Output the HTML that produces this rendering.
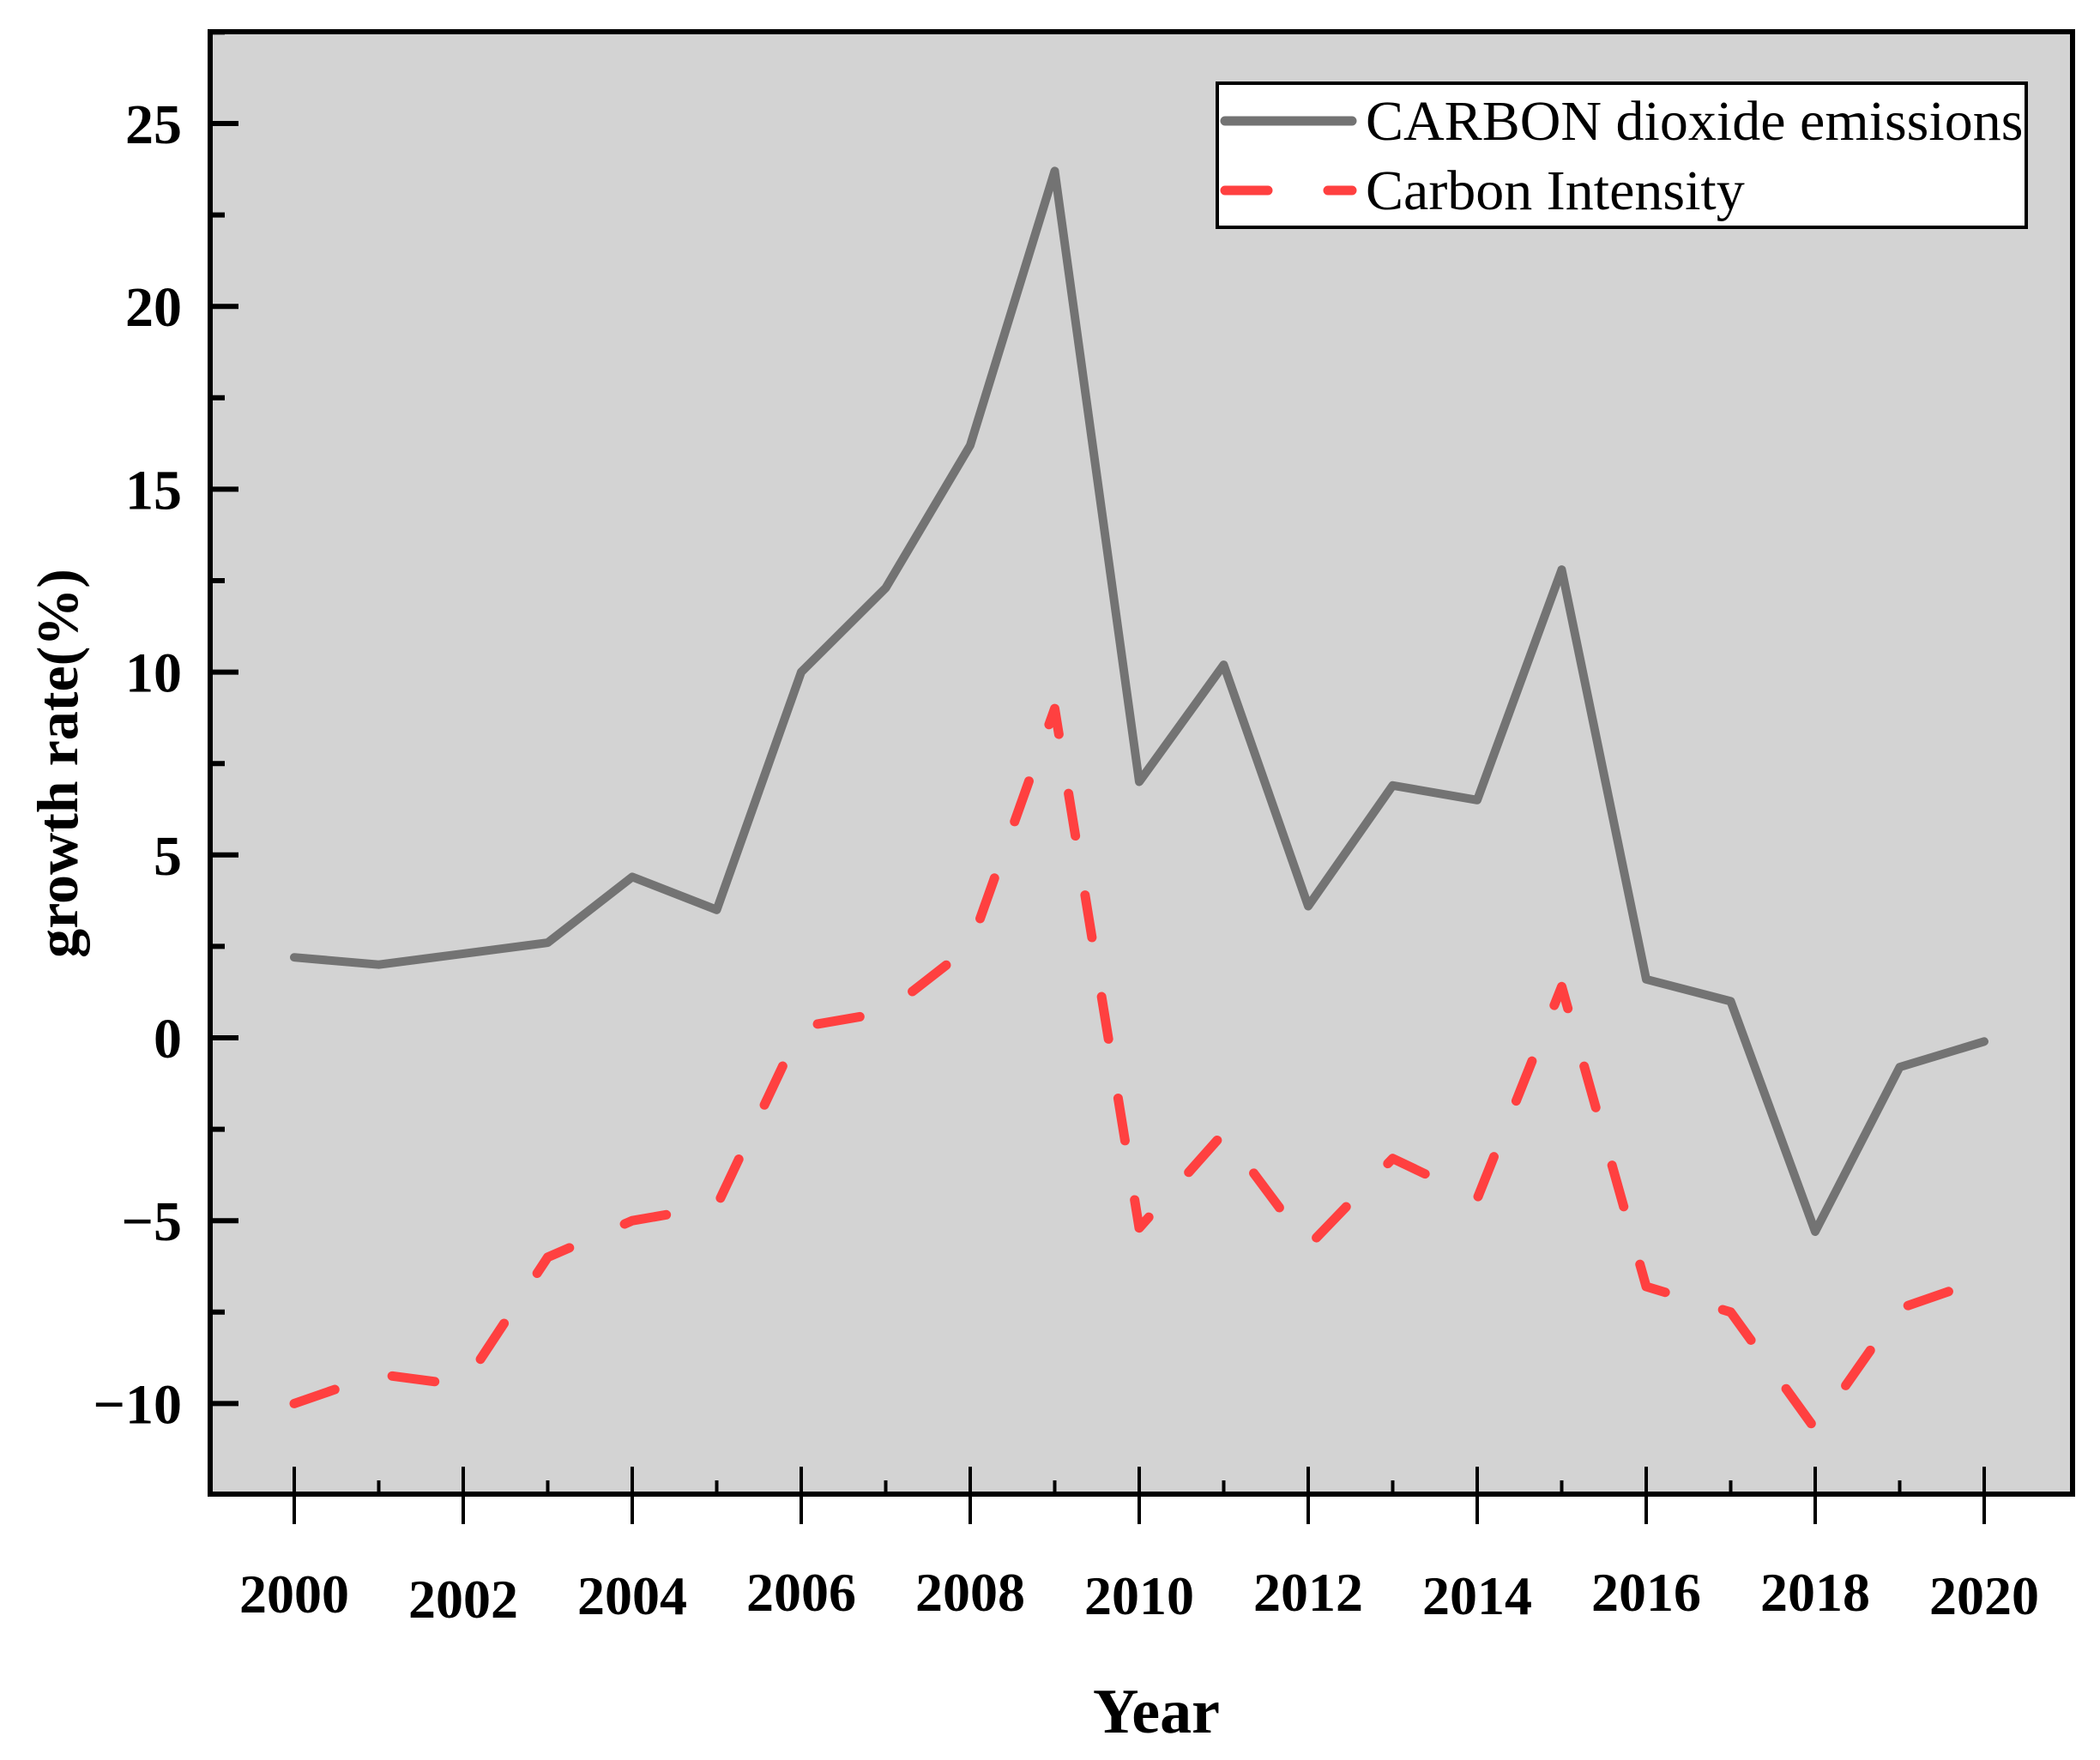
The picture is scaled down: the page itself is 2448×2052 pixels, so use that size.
<!DOCTYPE html>
<html><head><meta charset="utf-8"><style>
html,body{margin:0;padding:0;background:#fff;}
svg{display:block;font-family:"Liberation Serif",serif;}
</style></head><body>
<svg id="chart" width="2448" height="2052" viewBox="0 0 2448 2052" xmlns="http://www.w3.org/2000/svg">
<rect x="245" y="37" width="2171" height="1705" fill="#d3d3d3"/>
<g id="grid"></g>
<g id="series"></g>
<rect x="245" y="37" width="2171" height="1705" fill="none" stroke="#000" stroke-width="6"/>
<g id="axes"></g>
<text transform="translate(90,890) rotate(-90)" text-anchor="middle" font-size="68" font-weight="bold">growth rate(%)</text>
<text x="1348" y="2020" text-anchor="middle" font-size="74" font-weight="bold">Year</text>
<g>
<rect x="1419" y="97" width="943" height="168" fill="#fff" stroke="#000" stroke-width="4"/>
<line x1="1428" y1="141" x2="1576" y2="141" stroke="#737373" stroke-width="11" stroke-linecap="round"/>
<text x="1592" y="163" font-size="66">CARBON dioxide emissions</text>
<line x1="1428" y1="222" x2="1576" y2="222" stroke="#ff4040" stroke-width="11" stroke-linecap="round" stroke-dasharray="50 70"/>
<text x="1592" y="244" font-size="66">Carbon Intensity</text>
</g>
</svg>
<script>
const years = [2000,2001,2002,2003,2004,2005,2006,2007,2008,2009,2010,2011,2012,2013,2014,2015,2016,2017,2018,2019,2020];
const co2Growth = [2.2,2.0,2.3,2.6,4.4,3.5,10.0,12.3,16.2,23.7,7.0,10.2,3.6,6.9,6.5,12.8,1.6,1.0,-5.3,-0.8,-0.1];
const intensityGrowth = [-10.0,-9.2,-9.5,-6.0,-5.0,-4.6,0.3,0.7,2.5,9.0,-5.2,-2.6,-5.7,-3.3,-4.4,1.4,-6.8,-7.5,-10.7,-7.4,-6.6];
const yTicks = [-10,-5,0,5,10,15,20,25];
const xTickLabels = [2000,2002,2004,2006,2008,2010,2012,2014,2016,2018,2020];

const NS="http://www.w3.org/2000/svg";
function xS(v){return 343+(v-2000)*98.5;}
function yS(v){return 1210-v*42.64;}
function mk(tag,attrs,parent){const e=document.createElementNS(NS,tag);for(const k in attrs)e.setAttribute(k,attrs[k]);parent.appendChild(e);return e;}
const axes=document.getElementById('axes'), series=document.getElementById('series');

yTicks.forEach(v=>{
  const t=mk('line',{x1:245,x2:278,y1:yS(v),y2:yS(v),stroke:'#000','stroke-width':6},axes);
  
  
  const m=mk('line',{x1:245,x2:262,y1:yS(v+2.5),y2:yS(v+2.5),stroke:'#000','stroke-width':6},axes);
  
  
  const l=mk('text',{x:212,y:yS(v)+23,'text-anchor':'end','font-size':66,'font-weight':'bold'},axes);
  l.textContent=v<0?'\u2212'+Math.abs(v):String(v);
  
  
});
years.forEach(y=>{
  const major=(y%2===0);
  const t=mk('line',{x1:xS(y),x2:xS(y),y1:major?1710:1726,y2:major?1777:1742,stroke:'#000','stroke-width':4},axes);
  
  
});
const offs=[0,6,2,-2,-2,2,-2,2,-2,-2,2];
xTickLabels.forEach((y,i)=>{
  const l=mk('text',{x:xS(y),y:1880+offs[i],'text-anchor':'middle','font-size':64,'font-weight':'bold'},axes);
  l.textContent=String(y);
  
  
});
function path(vals){return vals.map((v,i)=>(i?'L':'M')+xS(years[i]).toFixed(1)+','+yS(v).toFixed(1)).join(' ');}
const p1=mk('path',{d:path(co2Growth),fill:'none',stroke:'#737373','stroke-width':10,'stroke-linejoin':'round','stroke-linecap':'round'},series);


const p2=mk('path',{d:path(intensityGrowth),fill:'none',stroke:'#ff4040','stroke-width':11,'stroke-linejoin':'round','stroke-linecap':'round','stroke-dasharray':'50 70'},series);


</script>
</body></html>
